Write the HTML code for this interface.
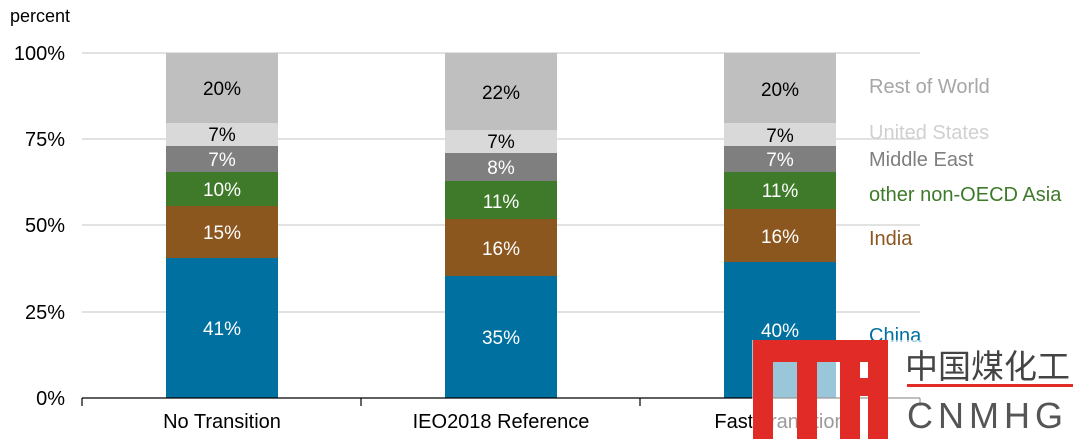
<!DOCTYPE html>
<html><head><meta charset="utf-8"><style>
body{margin:0;background:#fff;}
text{font-family:"Liberation Sans",Arial,sans-serif;}
</style></head><body>
<svg width="1080" height="439" xmlns="http://www.w3.org/2000/svg">
<text x="10" y="22" font-size="18" fill="#000">percent</text>
<g font-size="20" fill="#000" text-anchor="end">
<text x="65" y="60">100%</text><text x="65" y="146">75%</text><text x="65" y="232">50%</text><text x="65" y="319">25%</text><text x="65" y="405">0%</text>
</g>
<g stroke="#d9d9d9" stroke-width="1.5">
<line x1="82" y1="53" x2="920" y2="53"/><line x1="82" y1="139" x2="920" y2="139"/><line x1="82" y1="225" x2="920" y2="225"/><line x1="82" y1="312" x2="920" y2="312"/>
</g>
<g>
<rect x="166" y="53" width="112" height="70" fill="#bfbfbf"/>
<rect x="166" y="123" width="112" height="23" fill="#d9d9d9"/>
<rect x="166" y="146" width="112" height="26" fill="#7f7f7f"/>
<rect x="166" y="172" width="112" height="34" fill="#3e7a2a"/>
<rect x="166" y="206" width="112" height="52" fill="#8c561f"/>
<rect x="166" y="258" width="112" height="140" fill="#0070a0"/>
<rect x="445" y="53" width="112" height="77" fill="#bfbfbf"/>
<rect x="445" y="130" width="112" height="23" fill="#d9d9d9"/>
<rect x="445" y="153" width="112" height="28" fill="#7f7f7f"/>
<rect x="445" y="181" width="112" height="38" fill="#3e7a2a"/>
<rect x="445" y="219" width="112" height="57" fill="#8c561f"/>
<rect x="445" y="276" width="112" height="122" fill="#0070a0"/>
<rect x="724" y="53" width="112" height="70" fill="#bfbfbf"/>
<rect x="724" y="123" width="112" height="23" fill="#d9d9d9"/>
<rect x="724" y="146" width="112" height="26" fill="#7f7f7f"/>
<rect x="724" y="172" width="112" height="37" fill="#3e7a2a"/>
<rect x="724" y="209" width="112" height="53" fill="#8c561f"/>
<rect x="724" y="262" width="112" height="136" fill="#0070a0"/>
</g>
<g font-size="19" text-anchor="middle">
<text x="222" y="95" fill="#000">20%</text><text x="222" y="141" fill="#000">7%</text><text x="222" y="166" fill="#fff">7%</text><text x="222" y="196" fill="#fff">10%</text><text x="222" y="239" fill="#fff">15%</text><text x="222" y="335" fill="#fff">41%</text>
<text x="501" y="99" fill="#000">22%</text><text x="501" y="148" fill="#000">7%</text><text x="501" y="174" fill="#fff">8%</text><text x="501" y="208" fill="#fff">11%</text><text x="501" y="255" fill="#fff">16%</text><text x="501" y="344" fill="#fff">35%</text>
<text x="780" y="96" fill="#000">20%</text><text x="780" y="142" fill="#000">7%</text><text x="780" y="166" fill="#fff">7%</text><text x="780" y="197" fill="#fff">11%</text><text x="780" y="243" fill="#fff">16%</text><text x="780" y="337" fill="#fff">40%</text>
</g>
<g stroke="#000" stroke-width="1.2">
<line x1="82" y1="398" x2="920" y2="398"/>
<line x1="82" y1="398" x2="82" y2="406"/><line x1="361" y1="398" x2="361" y2="406"/><line x1="640" y1="398" x2="640" y2="406"/><line x1="920" y1="398" x2="920" y2="406"/>
</g>
<g font-size="20" fill="#000" text-anchor="middle">
<text x="222" y="428">No Transition</text><text x="501" y="428">IEO2018 Reference</text><text x="780" y="428">Fast Transition</text>
</g>
<g font-size="20">
<text x="869" y="93" fill="#a6a6a6">Rest of World</text>
<text x="869" y="139" fill="#d0d0d0">United States</text>
<text x="869" y="166" fill="#7f7f7f">Middle East</text>
<text x="869" y="201" fill="#3e7a2a">other non-OECD Asia</text>
<text x="869" y="245" fill="#8c561f">India</text>
<text x="869" y="342" fill="#0070a0">China</text>
</g>
<rect x="752" y="340" width="328" height="99" fill="#fff" opacity="0.6"/>
<g fill="#e02b27">
<rect x="753" y="340" width="134" height="22"/>
<rect x="753" y="340" width="20" height="99"/>
<rect x="797" y="340" width="20" height="99"/>
<rect x="840" y="340" width="20" height="99"/>
<rect x="868" y="340" width="20" height="99"/>
<rect x="840" y="378" width="48" height="18"/>
</g>
<text x="905" y="378" font-size="33" fill="#444" font-family="'Noto Sans CJK SC',sans-serif">中国煤化工</text>
<rect x="907" y="384" width="166" height="3" fill="#e02b27"/>
<text x="907" y="428" font-size="36" fill="#555" letter-spacing="10" textLength="166" lengthAdjust="spacing">CNMHG</text>
</svg>
</body></html>
